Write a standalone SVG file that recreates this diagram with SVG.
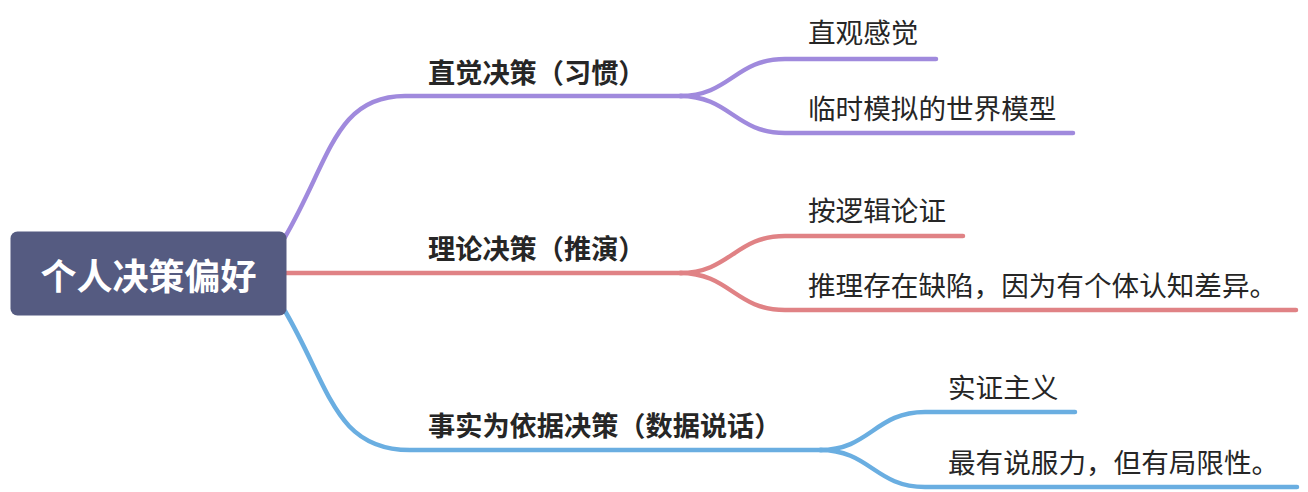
<svg xmlns="http://www.w3.org/2000/svg" width="1308" height="492" viewBox="0 0 1308 492">
<style>
text{font-family:"Noto Sans CJK SC","Noto Sans",sans-serif;fill:#262626;dominant-baseline:central}
.leaf{font-size:27.600px}
.br{font-size:27.200px;font-weight:bold}
.root{font-size:36px;font-weight:bold;fill:#ffffff;text-anchor:middle}
.ln{fill:none;stroke-width:4.5;stroke-linecap:round}
.p{stroke:#A08ADD}
.r{stroke:#E08285}
.b{stroke:#6AAEE1}
</style>
<rect width="1308" height="492" fill="#ffffff"/>
<g id="connectors">
  <path class="ln p" d="M285,237 C330,160 335,96 405,96 L682,96"/>
  <path class="ln p" d="M680,96 C730,96 735,59 785,59 L936,59"/>
  <path class="ln p" d="M680,96 C730,96 735,133 785,133 L1073,133"/>
  <path class="ln r" d="M285,273 L682,273"/>
  <path class="ln r" d="M680,273 C730,273 735,236 785,236 L963,236"/>
  <path class="ln r" d="M680,273 C730,273 735,310 785,310 L1296,310"/>
  <path class="ln b" d="M285,311 C330,388 335,450 410,450 L822,450"/>
  <path class="ln b" d="M820,450 C870,450 875,412 925,412 L1075,412"/>
  <path class="ln b" d="M820,450 C870,450 875,487 925,487 L1297,487"/>
</g>
<g id="root">
  <rect x="10.500" y="231.500" width="276" height="84" rx="7" fill="#555B81"/>
  <text class="root" x="148.500" y="273.500">个人决策偏好</text>
</g>
<g id="b1"><text class="br" x="428" y="70.500">直觉决策（习惯）</text></g>
<g id="b1c1"><text class="leaf" x="808" y="31">直观感觉</text></g>
<g id="b1c2"><text class="leaf" x="808" y="106.500">临时模拟的世界模型</text></g>
<g id="b2"><text class="br" x="428" y="247">理论决策（推演）</text></g>
<g id="b2c1"><text class="leaf" x="808" y="209">按逻辑论证</text></g>
<g id="b2c2"><text class="leaf" x="808" y="284">推理存在缺陷，因为有个体认知差异。</text></g>
<g id="b3"><text class="br" x="428" y="423.500">事实为依据决策（数据说话）</text></g>
<g id="b3c1"><text class="leaf" x="948" y="386">实证主义</text></g>
<g id="b3c2"><text class="leaf" x="948" y="461">最有说服力，但有局限性。</text></g>
</svg>
